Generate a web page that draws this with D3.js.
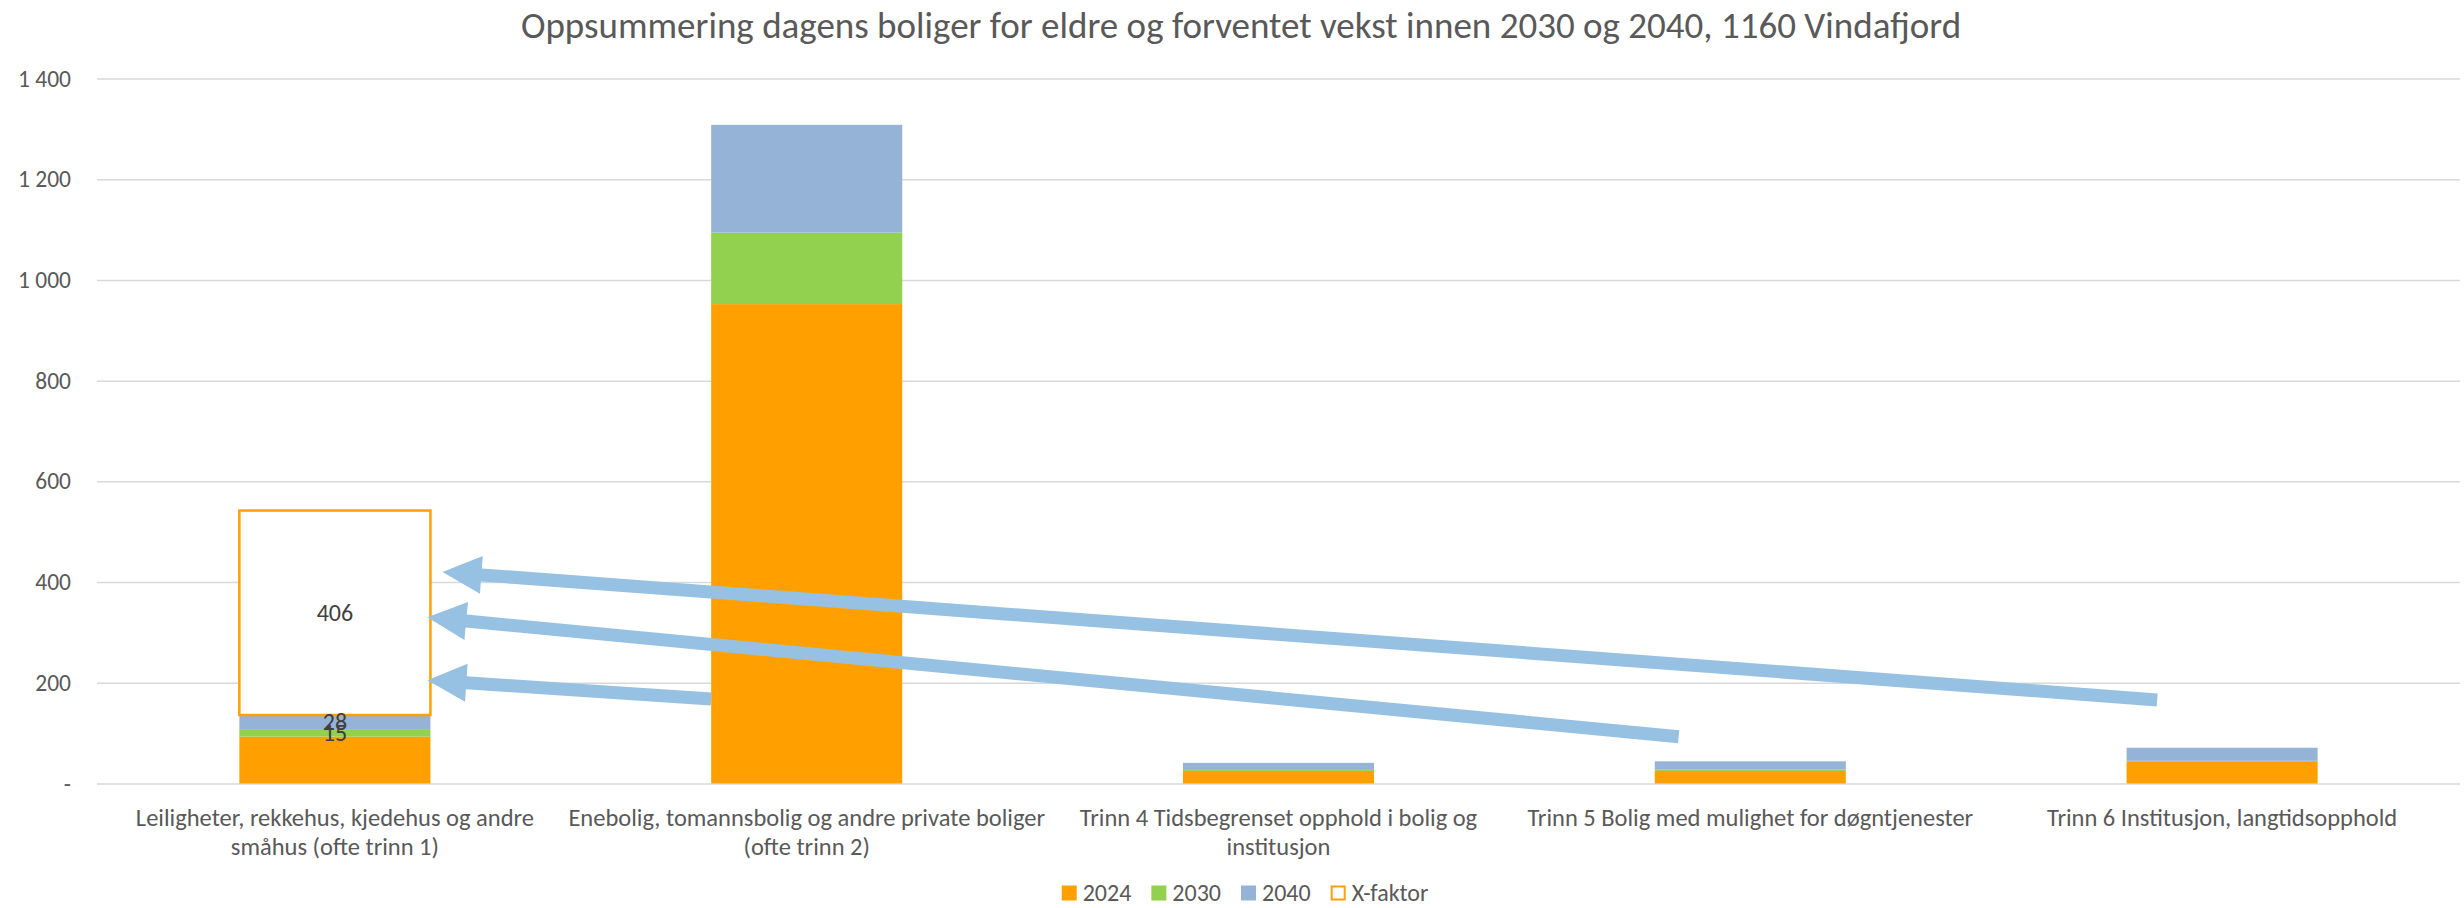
<!DOCTYPE html>
<html>
<head>
<meta charset="utf-8">
<script src="https://cdn.jsdelivr.net/npm/d3@7"></script>
<style>
  html, body { margin: 0; padding: 0; background: #fff; }
  svg { display: block; font-family: Carlito, Lato, "Open Sans", sans-serif; }
</style>
</head>
<body>
<div id="chart"></div>
<script>
// data
var categories = [
  'Leiligheter, rekkehus, kjedehus og andre\nsmåhus (ofte trinn 1)',
  'Enebolig, tomannsbolig og andre private boliger\n(ofte trinn 2)',
  'Trinn 4 Tidsbegrenset opphold i bolig og\ninstitusjon',
  'Trinn 5 Bolig med mulighet for døgntjenester',
  'Trinn 6 Institusjon, langtidsopphold'
];
var seriesNames = ['2024', '2030', '2040', 'X-faktor'];
var v2024 = [93, 952, 25, 25, 43];
var v2030 = [15, 142, 2, 3, 2];
var v2040 = [28, 214, 14, 16, 26];
var vXfaktor = [406, 0, 0, 0, 0];
var yTicks = [0, 200, 400, 600, 800, 1000, 1200, 1400];
// data labels are only on the first category
var labelSeries = ['2030', '2040', 'X-faktor'];
var labelCategory = 0;
// arrows drawn on the chart: [category index, fraction of bar width, value]
var arrows = [
  { from: [1, 0.0, 168], to: [0, 0.984, 205] },
  { from: [3, 0.125, 93], to: [0, 0.984, 330] },
  { from: [4, 0.16, 166], to: [0, 1.063, 420] }
];

var title = 'Oppsummering dagens boliger for eldre og forventet vekst innen 2030 og 2040, 1160 Vindafjord';

var width = 2464;
var height = 908;
var margin = { top: 78.5, right: 6, bottom: 124.5, left: 99 };
var colors = { '2024': '#FFA000', '2030': '#92D050', '2040': '#95B3D7', 'X-faktor': '#FFFFFF' };
var textColor = '#595959';

var rows = categories.map(function (c, i) {
  return { cat: c, '2024': v2024[i], '2030': v2030[i], '2040': v2040[i], 'X-faktor': vXfaktor[i] };
});
var stacked = d3.stack().keys(seriesNames)(rows);

var x = d3.scaleBand()
  .domain(categories)
  .range([margin.left, width - margin.right])
  .paddingInner(0.595)
  .paddingOuter(0.2975);
var y = d3.scaleLinear()
  .domain([0, 1400])
  .range([height - margin.bottom, margin.top]);

var svg = d3.select('#chart').append('svg')
  .attr('width', width)
  .attr('height', height);

// title
svg.append('text')
  .attr('x', 1241)
  .attr('y', 38)
  .attr('text-anchor', 'middle')
  .style('font-size', '37px')
  .style('fill', textColor)
  .text(title);

// gridlines + y axis
var yAxis = d3.axisLeft(y)
  .tickValues(yTicks)
  .tickSize(-(width - margin.left - margin.right + 4))
  .tickPadding(26)
  .tickFormat(function (d) {
    return d === 0 ? '-' : d3.format(',')(d).replace(/,/g, ' ');
  });
var gy = svg.append('g')
  .attr('transform', 'translate(' + (margin.left - 2) + ',0)')
  .call(yAxis);
gy.select('.domain').remove();
gy.selectAll('.tick line').attr('stroke', '#D9D9D9').attr('stroke-width', 1.5);
gy.selectAll('.tick text')
  .style('font-size', '23.5px')
  .style('font-family', 'Carlito, Lato, "Open Sans", sans-serif')
  .style('fill', textColor);

// bars
var layers = svg.append('g').selectAll('g')
  .data(stacked)
  .enter().append('g')
  .attr('fill', function (d) { return colors[d.key]; });
layers.selectAll('rect')
  .data(function (d) { return d.map(function (p) { p.key = d.key; return p; }); })
  .enter().append('rect')
  .filter(function (d) { return d[1] - d[0] > 0; })
  .attr('x', function (d) { return x(d.data.cat); })
  .attr('width', x.bandwidth())
  .attr('y', function (d) { return y(d[1]); })
  .attr('height', function (d) { return y(d[0]) - y(d[1]); })
  .attr('stroke', function (d) { return d.key === 'X-faktor' ? '#FFA000' : 'none'; })
  .attr('stroke-width', function (d) { return d.key === 'X-faktor' ? 2.5 : 0; });

// data labels
stacked.forEach(function (layer) {
  if (labelSeries.indexOf(layer.key) < 0) return;
  var p = layer[labelCategory];
  svg.append('text')
    .attr('x', x(categories[labelCategory]) + x.bandwidth() / 2)
    .attr('y', (y(p[0]) + y(p[1])) / 2)
    .attr('dy', '0.35em')
    .attr('text-anchor', 'middle')
    .style('font-size', '24px')
    .style('fill', '#404040')
    .text(layer.key === 'X-faktor' ? vXfaktor[labelCategory] : p[1] - p[0]);
});

// category labels
var catG = svg.append('g');
categories.forEach(function (c) {
  var t = catG.append('text')
    .attr('text-anchor', 'middle')
    .style('font-size', '24.5px')
    .style('fill', textColor);
  c.split('\n').forEach(function (line, i) {
    t.append('tspan')
      .attr('x', x(c) + x.bandwidth() / 2)
      .attr('y', 826 + i * 28.5)
      .text(line);
  });
});

// arrows (annotation shapes)
function arrowPoint(a) {
  return [x(categories[a[0]]) + a[1] * x.bandwidth(), y(a[2])];
}
var shaft = 13, headLen = 39, headHalf = 19;
arrows.forEach(function (a) {
  var p0 = arrowPoint(a.from), p1 = arrowPoint(a.to);
  var dx = p1[0] - p0[0], dy = p1[1] - p0[1];
  var len = Math.sqrt(dx * dx + dy * dy);
  var ux = dx / len, uy = dy / len, nx = -uy, ny = ux;
  var bx = p1[0] - ux * headLen, by = p1[1] - uy * headLen;
  var pts = [
    [p0[0] + nx * shaft / 2, p0[1] + ny * shaft / 2],
    [bx + nx * shaft / 2, by + ny * shaft / 2],
    [bx + nx * headHalf, by + ny * headHalf],
    p1,
    [bx - nx * headHalf, by - ny * headHalf],
    [bx - nx * shaft / 2, by - ny * shaft / 2],
    [p0[0] - nx * shaft / 2, p0[1] - ny * shaft / 2]
  ];
  svg.append('path')
    .attr('d', 'M' + pts.map(function (p) { return p.join(','); }).join('L') + 'Z')
    .attr('fill', '#97C1E2');
});

// legend, centred under the chart
var legend = svg.append('g');
var lx = 0;
seriesNames.forEach(function (s) {
  var g = legend.append('g').attr('transform', 'translate(' + lx + ',0)');
  g.append('rect')
    .attr('x', s === 'X-faktor' ? 1 : 0)
    .attr('y', s === 'X-faktor' ? -6.5 : -7.5)
    .attr('width', s === 'X-faktor' ? 13 : 15)
    .attr('height', s === 'X-faktor' ? 13 : 15)
    .attr('fill', colors[s])
    .attr('stroke', s === 'X-faktor' ? '#FFA000' : 'none')
    .attr('stroke-width', 2);
  var t = g.append('text')
    .attr('x', 21)
    .attr('dy', '0.35em')
    .style('font-size', '24px')
    .style('fill', textColor)
    .text(s);
  lx += 21 + t.node().getComputedTextLength() + 20;
});
var legendW = lx - 20;
legend.attr('transform', 'translate(' + (1245 - legendW / 2) + ',893)');
</script>
</body>
</html>
